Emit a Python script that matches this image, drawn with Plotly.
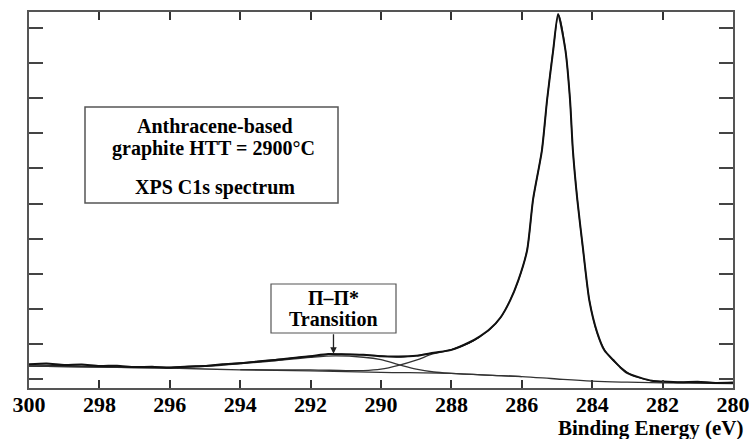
import plotly.graph_objects as go

# Binding energy (eV) and intensity (arb. units)
data_E = [300, 299.5, 299, 298.5, 298, 297.5, 297, 296.5, 296, 295.5, 295, 294.5, 294, 293.5, 293,
          292.5, 292, 291.5, 291, 290.5, 290, 289.5, 289, 288.5, 288, 287.5, 287.2, 286.9, 286.6,
          286.33, 286.1, 285.85, 285.68, 285.43, 285.28, 285.11, 284.97, 284.76, 284.63, 284.55,
          284.42, 284.26, 284.08, 283.86, 283.65, 283.4, 283.2, 283, 282.64, 282.3, 282, 281.5,
          281, 280.5, 280]
data_I = [0.42, 0.44, 0.40, 0.41, 0.37, 0.38, 0.34, 0.35, 0.32, 0.36, 0.37, 0.42, 0.45, 0.50, 0.54,
          0.60, 0.65, 0.71, 0.70, 0.69, 0.65, 0.64, 0.66, 0.75, 0.83, 1.04, 1.21, 1.43, 1.76,
          2.24, 2.81, 3.66, 5.12, 6.50, 7.97, 9.35, 10.40, 9.36, 7.96, 6.54,
          5.08, 3.70, 2.23, 1.33, 0.81, 0.54, 0.33, 0.17, 0.04, -0.05, -0.07, -0.09,
          -0.08, -0.11, -0.10]

env_E = [300, 299, 298, 297, 296, 295, 294, 293, 292, 291.5, 291, 290.5, 290, 289.5, 289, 288.5,
         288, 287.5, 287.2, 286.9, 286.6, 286.33, 286.1, 285.85, 285.68, 285.43, 285.28, 285.11,
         284.95, 284.76, 284.63, 284.55, 284.42, 284.26, 284.08, 283.86, 283.65, 283.4, 283.2,
         282.93, 282.64, 282.27, 281.5, 280]
env_I = [0.40, 0.38, 0.36, 0.34, 0.34, 0.38, 0.46, 0.55, 0.65, 0.70, 0.71, 0.69, 0.66, 0.62, 0.67,
         0.74, 0.84, 1.03, 1.20, 1.42, 1.75, 2.25, 2.80, 3.68, 5.10, 6.52, 7.95, 9.37,
         10.37, 9.37, 7.95, 6.52, 5.10, 3.68, 2.25, 1.31, 0.83, 0.52, 0.34,
         0.14, 0.03, -0.06, -0.09, -0.11]

bg_E = [300, 298, 296, 294, 292, 290, 288, 287, 286, 285, 284, 283, 282, 280]
bg_I = [0.37, 0.34, 0.31, 0.26, 0.23, 0.19, 0.16, 0.11, 0.07, 0.00, -0.06, -0.09, -0.11, -0.13]

pi_E = [300, 298, 296, 295, 294, 293, 292, 291.3, 290.5, 290, 289.5, 289, 288.5, 288, 287, 286]
pi_I = [0.37, 0.34, 0.32, 0.36, 0.44, 0.52, 0.62, 0.66, 0.62, 0.55, 0.41, 0.28, 0.20, 0.16, 0.11, 0.07]

main_E = [294, 293, 292, 291, 290.5, 290, 289.5, 289, 288.5, 288, 287.5, 287.2]
main_I = [0.27, 0.26, 0.26, 0.24, 0.24, 0.28, 0.39, 0.54, 0.72, 0.83, 1.02, 1.20]

x_ticks = [300, 298, 296, 294, 292, 290, 288, 286, 284, 282, 280]

SERIF = "Liberation Serif"

fig = go.Figure()
fig.add_trace(go.Scatter(x=bg_E, y=bg_I, mode="lines", line=dict(color="#333", width=1.3, shape="spline")))
fig.add_trace(go.Scatter(x=pi_E, y=pi_I, mode="lines", line=dict(color="#333", width=1.3, shape="spline")))
fig.add_trace(go.Scatter(x=main_E, y=main_I, mode="lines", line=dict(color="#333", width=1.3, shape="spline")))
fig.add_trace(go.Scatter(x=env_E, y=env_I, mode="lines", line=dict(color="#222", width=1.2, shape="spline")))
fig.add_trace(go.Scatter(x=data_E, y=data_I, mode="lines", line=dict(color="#111", width=2, shape="spline", smoothing=0.6)))

fig.update_layout(
    width=749, height=439,
    margin=dict(l=29, r=16, t=12, b=51, autoexpand=False),
    paper_bgcolor="white", plot_bgcolor="white",
    showlegend=False,
    font=dict(family=SERIF, color="black"),
    xaxis=dict(range=[300, 280], tickvals=x_ticks, ticktext=["<b>%d</b>" % v for v in x_ticks],
               ticks="inside", ticklen=8, tickwidth=1.5, tickcolor="#333",
               showline=True, linecolor="#555", linewidth=2, mirror="ticks",
               showgrid=False, zeroline=False, ticklabeloverflow="allow", automargin=False,
               ticklabelstandoff=-4,
               tickfont=dict(family=SERIF, size=22, color="black")),
    yaxis=dict(range=[-0.256, 10.456], tick0=0, dtick=1,
               ticks="inside", ticklen=14, tickwidth=1.5, tickcolor="#444",
               showticklabels=False, automargin=False,
               showline=True, linecolor="#555", linewidth=2, mirror="ticks",
               showgrid=False, zeroline=False),
)

def ptext(txt, px, py, size=20, xanchor="center"):
    fig.add_annotation(text=txt, xref="paper", yref="paper",
                       x=(px - 29) / 704, y=(388 - py) / 376,
                       xanchor=xanchor, yanchor="middle", showarrow=False,
                       font=dict(family=SERIF, size=size, color="black"))

ptext("<b>Binding Energy (eV)</b>", 746, 428, size=21, xanchor="right")

# text box
fig.add_shape(type="rect", xref="paper", yref="paper",
              x0=(85 - 29) / 704, x1=(338 - 29) / 704,
              y0=(388 - 203) / 376, y1=(388 - 107) / 376,
              line=dict(color="#555", width=1.5), fillcolor="rgba(0,0,0,0)")
ptext("<b>Anthracene-based</b>", 215, 126)
ptext("<b>graphite HTT = 2900°C</b>", 213, 148)
ptext("<b>XPS C1s spectrum</b>", 215, 187)

# transition label
fig.add_shape(type="rect", xref="paper", yref="paper",
              x0=(271 - 29) / 704, x1=(396 - 29) / 704,
              y0=(388 - 333) / 376, y1=(388 - 284) / 376,
              line=dict(color="#555", width=1.2), fillcolor="rgba(0,0,0,0)")
ptext("<b>Π–Π*</b>", 333, 298, size=20)
ptext("<b>Transition</b>", 333, 319, size=20)
fig.add_annotation(x=291.35, y=0.72, xref="x", yref="y", ax=0, ay=-21,
                   showarrow=True, arrowhead=2, arrowsize=1, arrowwidth=1.3, arrowcolor="#222", text="")

fig.write_html("out.html")
